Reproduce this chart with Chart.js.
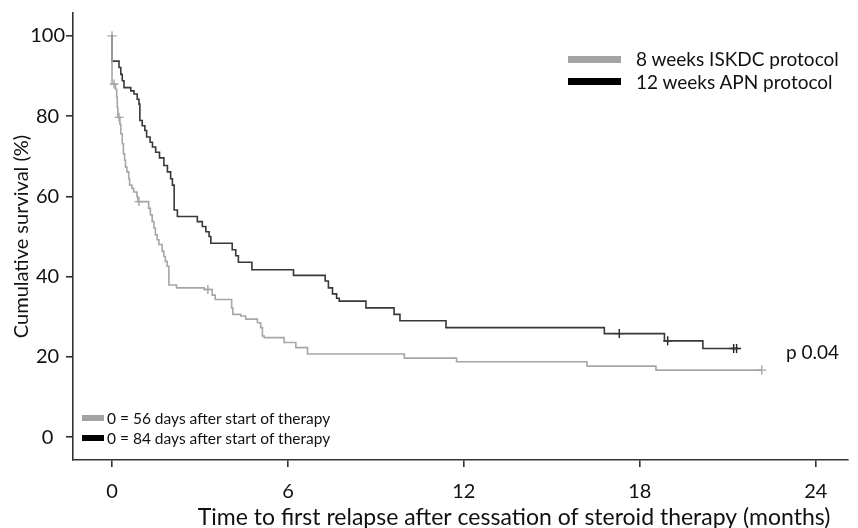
<!DOCTYPE html>
<html>
<head>
<meta charset="utf-8">
<script src="https://cdn.jsdelivr.net/npm/chart.js@4.4.0/dist/chart.umd.min.js"></script>
<style>
body{margin:0;background:#fff;font-family:Lato,"Open Sans",sans-serif;color:#111;}
#wrap{position:relative;width:858px;height:528px;}
.bar{position:absolute;}
.lbl{position:absolute;white-space:nowrap;line-height:20px;}
</style>
</head>
<body>
<div id="wrap">
<canvas id="mycanvas" width="858" height="528"></canvas>
<div class="bar" style="left:568px;top:56px;width:53px;height:7px;background:#a3a3a3"></div>
<div class="lbl" style="left:636px;top:49px;font-size:19px">8 weeks ISKDC protocol</div>
<div class="bar" style="left:568px;top:78px;width:53px;height:7px;background:#000"></div>
<div class="lbl" style="left:636px;top:72px;font-size:19px">12 weeks APN protocol</div>
<div class="bar" style="left:82px;top:415px;width:22px;height:6px;background:#a3a3a3"></div>
<div class="lbl" style="left:107px;top:408px;font-size:15.5px">0 = 56 days after start of therapy</div>
<div class="bar" style="left:82px;top:435px;width:22px;height:6px;background:#000"></div>
<div class="lbl" style="left:107px;top:428px;font-size:15.5px">0 = 84 days after start of therapy</div>
<div class="lbl" style="left:786px;top:342px;font-size:19px">p 0.04</div>
</div>
<script>
// 8 weeks ISKDC protocol (grey)
var iskdcTime=[0,0,0.12,0.16,0.18,0.2,0.27,0.3,0.35,0.39,0.43,0.46,0.51,0.57,0.6,0.68,0.74,0.85,0.88,1.25,1.31,1.37,1.43,1.48,1.54,1.6,1.71,1.77,1.82,1.88,1.94,2.2,3.15,3.42,3.52,4.08,4.12,4.39,4.56,4.96,5.07,5.13,5.19,5.87,6.27,6.67,9.97,11.75,16.2,18.55,22.16];
var iskdcSurv=[100,88,86.7,84.7,82.2,79.7,78,75.6,73.1,70.6,69,67.3,66.1,64.4,62.8,62,61.1,59.9,58.7,57,55.4,53.7,52.1,50.4,49.2,48,46.3,45,43.8,42.6,37.9,37.2,36.8,35.4,34.3,32.2,30.6,30.2,29.4,28.5,27.3,25.2,24.8,23.6,22.3,20.7,19.7,18.8,17.7,16.7,16.7];
var iskdcCensTime=[0,0.07,0.24,0.92,3.27,22.16];
var iskdcCensSurv=[100,88,79.7,58.7,36.8,16.7];

// 12 weeks APN protocol (black)
var apnTime=[0,0,0.24,0.3,0.35,0.41,0.64,0.75,0.86,0.92,0.95,1.03,1.12,1.18,1.3,1.38,1.49,1.62,1.77,1.89,2.0,2.06,2.12,2.23,2.91,3.08,3.2,3.31,3.37,4.1,4.22,4.31,4.77,6.19,7.27,7.38,7.52,7.66,7.75,8.66,9.62,9.82,11.39,16.79,18.84,20.15,21.3];
var apnSurv=[100,93.7,92.1,90.4,88.8,87.1,86.3,85.5,84.2,83,78.9,77.6,76.4,74.8,73.5,72.3,71,69.6,67.7,66.1,64.4,62.8,56.6,55,53.7,52.5,51.2,50,48.3,46.7,45.2,43.6,41.7,40.3,38.9,37.2,35.7,34.6,33.9,32.2,30.6,29,27.3,25.8,24,22.1,22.1];
var apnCensTime=[17.3,18.95,21.2,21.3];
var apnCensSurv=[25.8,24,22.1,22.1];

var xTicks=[0,6,12,18,24];
var yTicks=[0,20,40,60,80,100];

function pts(t,s){
	var out=[];
	for(var i in t){ out.push({x:t[i],y:s[i]}); }
	return out;
}

Chart.defaults.font.family='Lato';
Chart.defaults.color='#111';

var ctx=document.getElementById('mycanvas');
var kmChart=new Chart(ctx,{
	type:'line',
	data:{
		datasets:[
		{
			label:'8 weeks ISKDC protocol',
			data:pts(iskdcTime,iskdcSurv),
			stepped:'before',
			borderColor:'#a6a6a6',
			borderWidth:1.6,
			pointRadius:0,
			fill:false
		},
		{
			label:'12 weeks APN protocol',
			data:pts(apnTime,apnSurv),
			stepped:'before',
			borderColor:'#383838',
			borderWidth:1.6,
			pointRadius:0,
			fill:false
		},
		{
			label:'ISKDC censored',
			data:pts(iskdcCensTime,iskdcCensSurv),
			showLine:false,
			pointStyle:'cross',
			pointRadius:4.5,
			borderColor:'#a6a6a6',
			borderWidth:1.4
		},
		{
			label:'APN censored',
			data:pts(apnCensTime,apnCensSurv),
			showLine:false,
			pointStyle:'cross',
			pointRadius:4.5,
			borderColor:'#222',
			borderWidth:1.4
		}
		]
	},
	options:{
		responsive:false,
		animation:false,
		layout:{padding:{top:12,right:10,left:0,bottom:0}},
		plugins:{legend:{display:false},tooltip:{enabled:false}},
		scales:{
			x:{
				type:'linear',
				min:-1.33,
				max:25.1,
				afterBuildTicks:function(scale){ scale.ticks=xTicks.map(function(v){return {value:v};}); },
				afterFit:function(scale){ scale.height=68; },
				border:{display:true,color:'#333',width:1.6},
				grid:{drawOnChartArea:false,color:'#333',lineWidth:1.6,tickLength:7},
				ticks:{font:{size:20},padding:13,color:'#111',maxRotation:0},
				// trailing spaces pull the right-aligned title in from the axis end
				title:{display:true,text:'Time to first relapse after cessation of steroid therapy (months)\u00a0\u00a0\u00a0',font:{size:23},align:'end',padding:{top:0,bottom:-3},color:'#111'}
			},
			y:{
				min:-5.7,
				max:105.7,
				afterBuildTicks:function(scale){ scale.ticks=yTicks.map(function(v){return {value:v};}); },
				afterFit:function(scale){ scale.width=73; },
				border:{display:true,color:'#333',width:1.6},
				grid:{drawOnChartArea:false,color:'#333',lineWidth:1.6,tickLength:7},
				ticks:{font:{size:20},padding:1,crossAlign:'center',color:'#111'},
				title:{display:true,text:'Cumulative survival (%)',font:{size:20},padding:{top:10,bottom:0},color:'#111'}
			}
		}
	}
});
</script>
</body>
</html>
